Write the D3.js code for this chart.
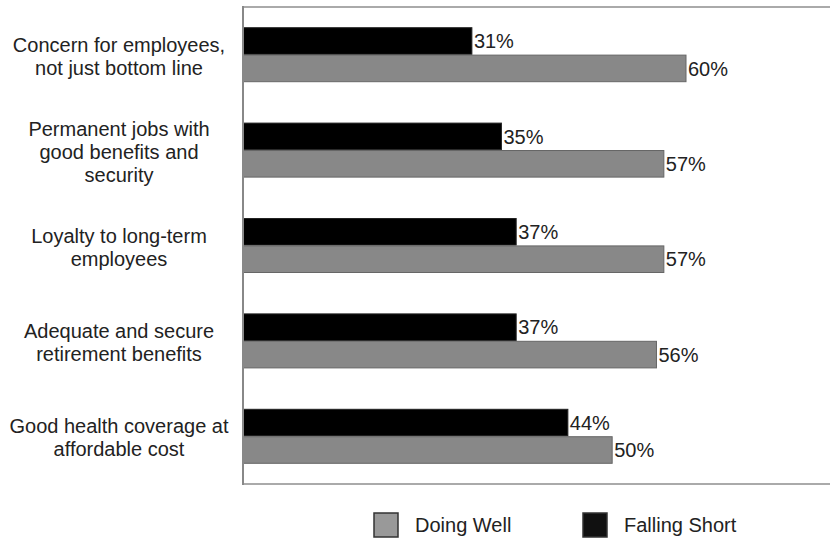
<!DOCTYPE html>
<html>
<head>
<meta charset="utf-8">
<script src="https://cdn.jsdelivr.net/npm/d3@7"></script>
<style>
  body { margin: 0; background: #fff; }
  text { font-family: "Liberation Sans", Arial, sans-serif; fill: #222; }
</style>
</head>
<body>
<script>
const categories = [
  "Concern for employees,|not just bottom line",
  "Permanent jobs with|good benefits and|security",
  "Loyalty to long-term|employees",
  "Adequate and secure|retirement benefits",
  "Good health coverage at|affordable cost",
];
const fallingShort = [31, 35, 37, 37, 44];
const doingWell = [60, 57, 57, 56, 50];
const seriesNames = ["Falling Short", "Doing Well"];

const width = 830;
const height = 540;
const plot = { left: 243, top: 7, bottom: 484 };
const fontSize = "20px";

const svg = d3
  .select("body")
  .append("svg")
  .attr("width", width)
  .attr("height", height);

const x = d3.scaleLinear().domain([0, 60]).range([plot.left, 686]);

const y = d3
  .scaleBand()
  .domain(categories)
  .range([plot.top, plot.bottom])
  .paddingInner(0.434)
  .paddingOuter(0.217);

const ySub = d3
  .scaleBand()
  .domain(seriesNames)
  .range([0, y.bandwidth()])
  .paddingInner(0.03);

const fills = { "Falling Short": "#000", "Doing Well": "#888" };
const strokes = { "Falling Short": "#222", "Doing Well": "#666" };

// frame lines
svg.append("line")
  .attr("x1", plot.left).attr("x2", width)
  .attr("y1", plot.top).attr("y2", plot.top)
  .attr("stroke", "#aaa").attr("stroke-width", 2);
svg.append("line")
  .attr("x1", plot.left).attr("x2", width)
  .attr("y1", plot.bottom).attr("y2", plot.bottom)
  .attr("stroke", "#aaa").attr("stroke-width", 2);

const rows = categories.map((c, i) => ({
  cat: c,
  values: [
    { name: "Falling Short", value: fallingShort[i] },
    { name: "Doing Well", value: doingWell[i] },
  ],
}));

const groups = svg
  .append("g")
  .selectAll("g")
  .data(rows)
  .join("g")
  .attr("transform", (d) => `translate(0,${y(d.cat)})`);

groups
  .selectAll("rect")
  .data((d) => d.values)
  .join("rect")
  .attr("x", x(0))
  .attr("y", (d) => ySub(d.name))
  .attr("width", (d) => x(d.value) - x(0))
  .attr("height", ySub.bandwidth())
  .attr("fill", (d) => fills[d.name])
  .attr("stroke", (d) => strokes[d.name])
  .attr("stroke-width", 1);

groups
  .selectAll("text.val")
  .data((d) => d.values)
  .join("text")
  .attr("class", "val")
  .attr("x", (d) => x(d.value) + 2)
  .attr("y", (d) => ySub(d.name) + ySub.bandwidth() / 2)
  .attr("dy", "0.36em")
  .style("font-size", fontSize)
  .text((d) => d.value + "%");

// category labels, multi-line
const lineH = 23;
svg
  .append("g")
  .selectAll("text")
  .data(categories)
  .join("text")
  .attr("text-anchor", "middle")
  .style("font-size", fontSize)
  .each(function (d) {
    const lines = d.split("|");
    const cy = y(d) + y.bandwidth() / 2;
    const t = d3.select(this);
    lines.forEach((ln, i) => {
      t.append("tspan")
        .attr("x", 119)
        .attr("y", cy + (i - (lines.length - 1) / 2) * lineH)
        .attr("dy", "0.43em")
        .text(ln);
    });
  });

// left axis line
svg.append("line")
  .attr("x1", plot.left).attr("x2", plot.left)
  .attr("y1", plot.top - 1).attr("y2", plot.bottom + 1)
  .attr("stroke", "#888").attr("stroke-width", 2);

// legend
const legendItems = [
  { name: "Doing Well", x: 374, fill: "#999" },
  { name: "Falling Short", x: 583, fill: "#111" },
];
const legend = svg
  .append("g")
  .selectAll("g")
  .data(legendItems)
  .join("g")
  .attr("transform", (d) => `translate(${d.x},513)`);
legend.append("rect")
  .attr("width", 24).attr("height", 24)
  .attr("fill", (d) => d.fill)
  .attr("stroke", "#333").attr("stroke-width", 1.5);
legend.append("text")
  .attr("x", 41).attr("y", 12).attr("dy", "0.36em")
  .style("font-size", fontSize)
  .text((d) => d.name);
</script>
</body>
</html>
